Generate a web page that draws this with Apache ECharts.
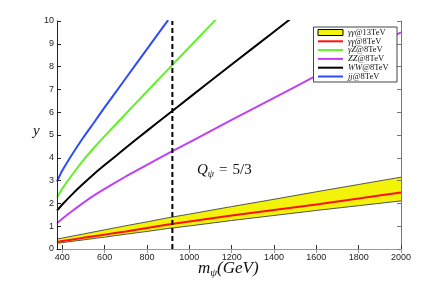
<!DOCTYPE html>
<html>
<head>
<meta charset="utf-8">
<script src="https://cdn.jsdelivr.net/npm/echarts@6/dist/echarts.min.js"></script>
<style>html,body{margin:0;padding:0;background:#fff;}#c{width:443px;height:282px;}</style>
</head>
<body>
<div id="c"></div>
<script>
// ---- data ----
var mass = [375, 400, 450, 500, 550, 600, 700, 800, 900, 1000, 1200, 1400, 1600, 1800, 2000];
var aa13Upper = [0.44, 0.48, 0.57, 0.66, 0.75, 0.84, 1.02, 1.19, 1.37, 1.53, 1.86, 2.18, 2.51, 2.83, 3.15];
var aa13Lower = [0.25, 0.28, 0.34, 0.40, 0.46, 0.52, 0.65, 0.77, 0.90, 1.01, 1.25, 1.47, 1.69, 1.90, 2.11];
var aa8 = [0.31, 0.35, 0.42, 0.49, 0.56, 0.63, 0.77, 0.92, 1.07, 1.21, 1.47, 1.71, 1.95, 2.21, 2.48];
var aZ8 = [2.27, 2.65, 3.30, 3.90, 4.44, 4.95, 5.93, 6.91, 7.88, 8.85, 10.79, null, null, null, null];
var ZZ8 = [1.14, 1.33, 1.69, 2.03, 2.35, 2.64, 3.18, 3.69, 4.19, 4.68, 5.66, 6.63, 7.60, 8.56, 9.50];
var WW8 = [1.69, 1.95, 2.43, 2.87, 3.29, 3.68, 4.44, 5.18, 5.91, 6.64, 8.09, 9.53, 10.97, null, null];
var jj8 = [2.96, 3.44, 4.20, 4.90, 5.55, 6.21, 7.49, 8.77, 10.04, null, null, null, null, null, null];
var xTicks = [400, 600, 800, 1000, 1200, 1400, 1600, 1800, 2000];
var dashedMass = 920;
var yRange = [0, 10];
var names = ['γγ@13TeV', 'γγ@8TeV', 'γZ@8TeV', 'ZZ@8TeV', 'WW@8TeV', 'jj@8TeV'];

function pairs(v) { return mass.map(function (m, i) { return [m, v[i]]; }); }

var chart = echarts.init(document.getElementById('c'), null, {renderer: 'canvas'});
var serif = 'Liberation Serif';
var sans = 'Liberation Sans';

function lineSeries(name, v, color, w) {
  return {
    name: name, type: 'line', data: pairs(v), symbol: 'none', smooth: 0.15,
    lineStyle: {color: color, width: w}, itemStyle: {color: color}, z: 3, silent: true
  };
}
var lineIcon = 'path://M0,0H25V2H0Z';

var option = {
  animation: false,
  backgroundColor: '#fff',
  grid: {left: 57, right: 42, top: 21, bottom: 33},
  xAxis: [{
    type: 'value', min: 375, max: 2000, position: 'bottom', z: 6,
    axisLine: {show: true, lineStyle: {color: '#333', width: 1}},
    axisTick: {show: true, inside: true, length: 4, lineStyle: {color: '#333'}, customValues: xTicks},
    axisLabel: {show: true, fontSize: 9, color: '#222', fontFamily: sans, margin: 4, customValues: xTicks,
      formatter: function (v) { return String(v); }},
    splitLine: {show: false}
  }, {
    type: 'value', min: 375, max: 2000, position: 'top', z: 6,
    axisLine: {show: true, lineStyle: {color: '#999', width: 1}},
    axisTick: {show: true, inside: true, length: 4, lineStyle: {color: '#999'}, customValues: xTicks},
    axisLabel: {show: false},
    splitLine: {show: false}
  }],
  yAxis: [{
    type: 'value', min: yRange[0], max: yRange[1], interval: 1, position: 'left', z: 6,
    axisLine: {show: true, lineStyle: {color: '#222', width: 1}},
    axisTick: {show: true, inside: true, length: 4, lineStyle: {color: '#222'}},
    axisLabel: {fontSize: 9, color: '#222', fontFamily: sans, margin: 3},
    splitLine: {show: false}
  }, {
    type: 'value', min: yRange[0], max: yRange[1], interval: 1, position: 'right', z: 6,
    axisLine: {show: true, lineStyle: {color: '#777', width: 1}},
    axisTick: {show: true, inside: true, length: 4, lineStyle: {color: '#777'}},
    axisLabel: {show: false},
    splitLine: {show: false}
  }],
  legend: {
    orient: 'vertical', right: 46, top: 27, z: 10,
    backgroundColor: '#fff', borderColor: '#444', borderWidth: 1, borderRadius: 0,
    padding: [1, 3, 1, 4], itemWidth: 25, itemHeight: 6, itemGap: -0.2,
    selectedMode: false,
    data: [
      {name: names[0], icon: 'rect', itemStyle: {color: '#f2f20a', borderColor: '#000', borderWidth: 1}},
      {name: names[1], icon: lineIcon}, {name: names[2], icon: lineIcon}, {name: names[3], icon: lineIcon},
      {name: names[4], icon: lineIcon}, {name: names[5], icon: lineIcon}
    ],
    formatter: function (n) {
      var p = n.split('@');
      return '{i|' + p[0] + '}{r|@' + p[1] + '}';
    },
    textStyle: {
      fontFamily: serif, fontSize: 8.5, lineHeight: 7.5, width: 46, color: '#111',
      rich: {
        i: {fontFamily: serif, fontStyle: 'italic', fontSize: 8.5, lineHeight: 7.5, color: '#111'},
        r: {fontFamily: serif, fontSize: 8.5, lineHeight: 7.5, color: '#111'}
      }
    }
  },
  graphic: [
    {type: 'text', left: 33, top: 124, z: 100, style: {text: 'y', font: 'italic 15px "Liberation Serif"', fill: '#111'}},
    {type: 'text', left: 198, top: 260, z: 100, style: {
      text: '{m|m}{s|ψ}{m|(GeV)}',
      rich: {
        m: {fontFamily: serif, fontStyle: 'italic', fontSize: 17, lineHeight: 20, fill: '#111'},
        s: {fontFamily: serif, fontStyle: 'italic', fontSize: 11, lineHeight: 13, verticalAlign: 'bottom', fill: '#111'}
      }
    }},
    {type: 'text', left: 197, top: 163, z: 100, style: {
      text: '{m|Q}{s|ψ}{e|=}{r|5/3}',
      rich: {
        m: {fontFamily: serif, fontStyle: 'italic', fontSize: 15, lineHeight: 18, fill: '#111'},
        s: {fontFamily: serif, fontStyle: 'italic', fontSize: 10, lineHeight: 12, verticalAlign: 'bottom', fill: '#111'},
        e: {fontFamily: serif, fontSize: 15, lineHeight: 18, padding: [0, 5, 0, 5], fill: '#111'},
        r: {fontFamily: serif, fontSize: 15, lineHeight: 18, fill: '#111'}
      }
    }}
  ],
  series: [
    {
      name: names[0], type: 'line', data: pairs(aa13Upper), symbol: 'none',
      lineStyle: {color: '#555', width: 1}, areaStyle: {color: '#f2f20a', opacity: 1, origin: 'start'},
      itemStyle: {color: '#f2f20a'}, silent: true, z: 2
    },
    {
      name: 'bandLower', type: 'line', data: pairs(aa13Lower), symbol: 'none',
      lineStyle: {color: '#555', width: 1}, areaStyle: {color: '#ffffff', opacity: 1, origin: 'start'},
      silent: true, z: 2
    },
    lineSeries(names[1], aa8, '#ff1010', 2),
    lineSeries(names[2], aZ8, '#62f02a', 2),
    lineSeries(names[3], ZZ8, '#c040f2', 2),
    lineSeries(names[4], WW8, '#000000', 2),
    lineSeries(names[5], jj8, '#2e4cf5', 2),
    {
      name: 'dashed', type: 'line', data: [[dashedMass, yRange[0]], [dashedMass, yRange[1]]],
      symbol: 'none', lineStyle: {color: '#000', width: 2, type: [5, 3]}, silent: true, z: 4
    }
  ]
};
chart.setOption(option);
</script>
</body>
</html>
